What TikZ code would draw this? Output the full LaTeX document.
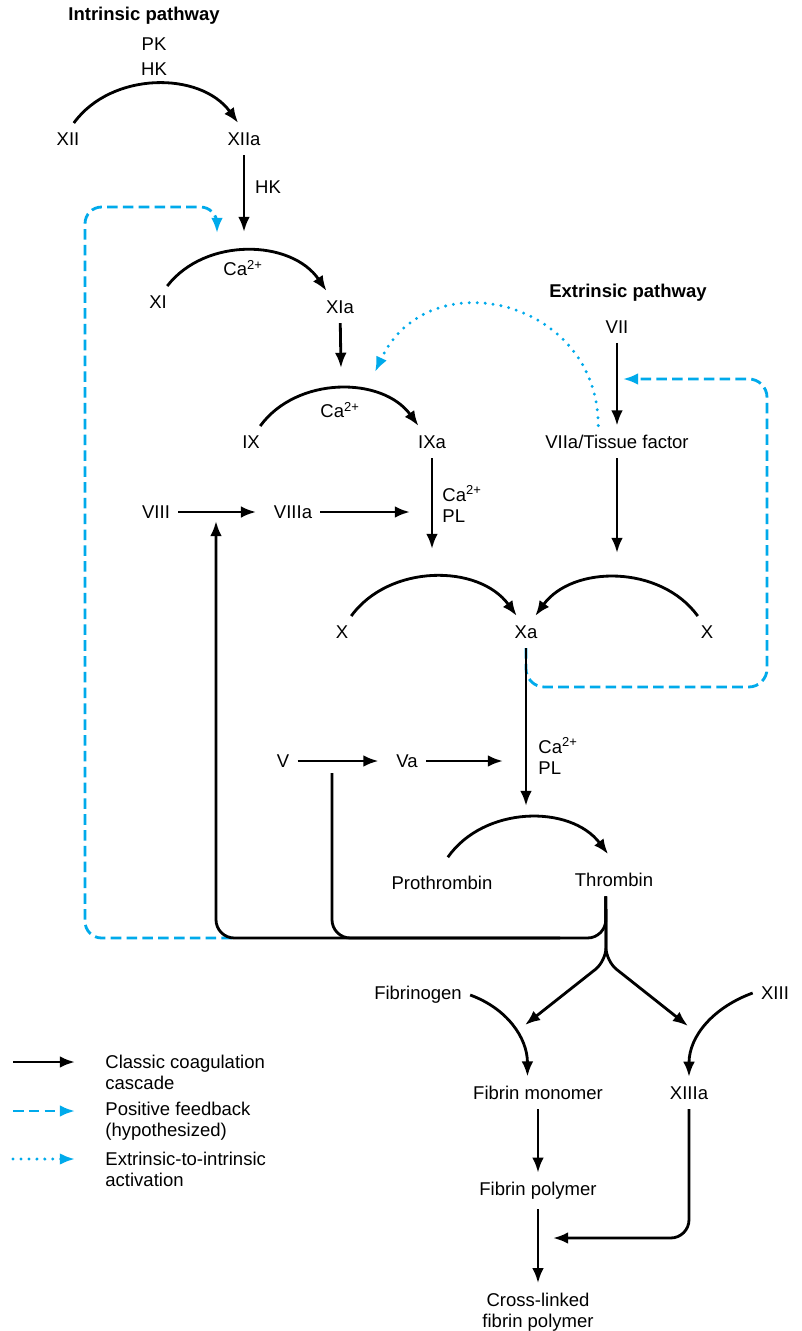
\documentclass[tikz,border=0pt]{standalone}
\usepackage{fontspec}
\setmainfont{Liberation Sans}
\definecolor{FeedBlue}{RGB}{0,170,235}
\usetikzlibrary{positioning,calc,arrows.meta}
\tikzset{>={Latex[length=13pt,width=10pt]}}
\tikzset{factor/.style={inner xsep=7pt,inner ysep=8pt,font=\fontsize{15.8}{18}\selectfont}}
\tikzset{heading/.style={factor,font=\fontsize{15.8}{18}\selectfont\bfseries}}
\tikzset{cascade/.style={->,line width=2.4pt}}
\tikzset{feedback/.style={->,line width=2.4pt,FeedBlue,dash pattern=on 9pt off 4.5pt}}
\tikzset{crosstalk/.style={->,line width=2.8pt,FeedBlue,line cap=round,dash pattern=on 0pt off 6.8pt}}

\begin{document}
\begin{tikzpicture}[x=0.03cm,y=-0.03cm]
    \fill[white] (0,0) rectangle (801,1331);
    \useasboundingbox (0,0) rectangle (801,1331);

    % intrinsic pathway
    \node[heading] (intr) at (144,16) {Intrinsic pathway};
    \node[factor] (PK) at (154,44) {PK};
    \node[factor] (HKa) at (154,69) {HK};
    \node[factor] (XII) at (68,139) {XII};
    \node[factor] (XIIa) at (244,139) {XIIa};
    \node[factor] (HKb) at (268,187) {HK};
    \node[factor] (XI) at (158,302) {XI};
    \node[factor] (XIa) at (340,307) {XIa};
    \node[factor] (CaXI) at (243,268) {Ca\textsuperscript{2+}};
    \node[factor] (IX) at (251,442) {IX};
    \node[factor] (IXa) at (432,442) {IXa};
    \node[factor] (CaIX) at (340,410) {Ca\textsuperscript{2+}};
    \node[factor] (VIII) at (156,512) {VIII};
    \node[factor] (VIIIa) at (293,512) {VIIIa};
    \node[factor,align=left,anchor=west] (CaPLa) at (434,504) {Ca\textsuperscript{2+}\\PL};

    % extrinsic pathway
    \node[heading] (extr) at (628,293) {Extrinsic pathway};
    \node[factor] (VII) at (617,327) {VII};
    \node[factor] (VIIa) at (617,442) {VIIa/Tissue factor};

    % common pathway
    \node[factor] (Xl) at (342,632) {X};
    \node[factor] (Xa) at (526,632) {Xa};
    \node[factor] (Xr) at (707,632) {X};
    \node[factor] (V) at (283,761) {V};
    \node[factor] (Va) at (407,761) {Va};
    \node[factor,align=left,anchor=west] (CaPLb) at (530,756) {Ca\textsuperscript{2+}\\PL};
    \node[factor] (ProT) at (442,883) {Prothrombin};
    \node[factor] (Thr) at (614,880) {Thrombin};
    \node[factor] (Fbg) at (418,995) {Fibrinogen};
    \node[factor] (XIII) at (775,993) {XIII};
    \node[factor] (FbMono) at (538,1093) {Fibrin monomer};
    \node[factor] (XIIIa) at (689,1093) {XIIIa};
    \node[factor] (FbPoly) at (538,1191) {Fibrin polymer};
    \node[factor,align=center] (FbX) at (538,1312) {Cross-linked\\fibrin polymer};

    % arrow ends
    \coordinate (XIin) at (244,232);
    \coordinate (IXin) at (341,368);
    \coordinate (IXfb) at (375,372);
    \coordinate (XIfb) at (217,233);
    \coordinate (VIIfb) at (623,379);
    \coordinate (fbR) at (767,687);
    \coordinate (fbL) at (232,938);
    \coordinate (fbTL) at (85,207);
    \coordinate (VIIIin) at (216,521);
    \coordinate (VIIIaout) at (410,512);
    \coordinate (XinL) at (432,549);
    \coordinate (XinR) at (617,553);
    \coordinate (IIin) at (526,806);
    \coordinate (Vaout) at (503,761);
    \coordinate (Vfb) at (332,773);
    \coordinate (loopL) at (216,938);
    \coordinate (loopR) at (560,938);
    \coordinate (fork) at (606,961);
    \coordinate (FbMonoIn) at (525,1025);
    \coordinate (XIIIaIn) at (688,1026);
    \coordinate (XLin) at (553,1238);

    % feedback
    \draw[feedback,rounded corners=0.5cm] (fbL) -| (fbTL) -| (XIfb);
    \draw[feedback,rounded corners=0.55cm] (Xa.south) |- (fbR) |- (VIIfb);
    \draw[crosstalk] ([xshift=-16pt]VIIa.north) to[out=90,in=65,looseness=1.4] (IXfb);

    % cascade
    \draw[cascade,bend left=54] (XII.70) to (XIIa.110);
    \draw[cascade] (XIIa) -- (XIin);
    \draw[cascade,bend left=54] (XI.60) to (XIa.130);
    \draw[cascade] (XIa) -- (IXin);
    \draw[cascade,bend left=54] (IX.60) to (IXa.130);
    \draw[cascade] (IXa) -- (XinL);
    \draw[cascade] (VII) -- (VIIa);
    \draw[cascade] (VIIa) -- (XinR);
    \draw[cascade,shorten >=8pt] (VIII) -- (VIIIa);
    \draw[cascade] (VIIIa) -- (VIIIaout);
    \draw[cascade,bend left=54] (Xl.60) to (Xa.120);
    \draw[cascade,bend right=54] (Xr.120) to (Xa.60);
    \draw[cascade] (Xa) -- (IIin);
    \draw[cascade,shorten >=8pt] (V) -- (Va);
    \draw[cascade] (Va) -- (Vaout);
    \draw[cascade,bend left=54] ([xshift=5pt,yshift=8pt]ProT.north) to ([xshift=-5pt,yshift=8pt]Thr.north);

    % thrombin loops back
    \draw[cascade,rounded corners=0.55cm] ([xshift=-7pt]Thr.south) |- (loopL) -- (VIIIin);
    \draw[line width=2.4pt,rounded corners=0.55cm] (Vfb) |- (loopR);
    \draw[cascade,rounded corners=0.4cm] ([xshift=-7pt]Thr.south) -- (fork) -- (FbMonoIn);
    \draw[cascade,rounded corners=0.4cm] ([xshift=-7pt]Thr.south) -- (fork) -- (XIIIaIn);

    % fibrin
    \draw[cascade] (Fbg.east) to[out=-20,in=90] ([xshift=-9pt]FbMono.north);
    \draw[cascade] (XIII.west) to[out=200,in=90] (XIIIa.north);
    \draw[cascade] (FbMono) -- (FbPoly);
    \draw[cascade] (FbPoly) -- (FbX);
    \draw[cascade,rounded corners=0.55cm] (XIIIa) |- (XLin);

    % key
    \foreach \sty/\yy/\txt [count=\i] in {cascade/1062/{Classic coagulation\\cascade},
        feedback/1111/{Positive feedback\\(hypothesized)},
        crosstalk/1159/{Extrinsic-to-intrinsic\\activation}} {
        \coordinate (key\i a) at (13,\yy);
        \coordinate (key\i b) at (75,\yy);
        \draw[\sty] (key\i a) -- (key\i b);
        \node[factor,align=left,anchor=west] (keytext\i) at (97,\yy+10) {\txt};
    }
\end{tikzpicture}
\end{document}
